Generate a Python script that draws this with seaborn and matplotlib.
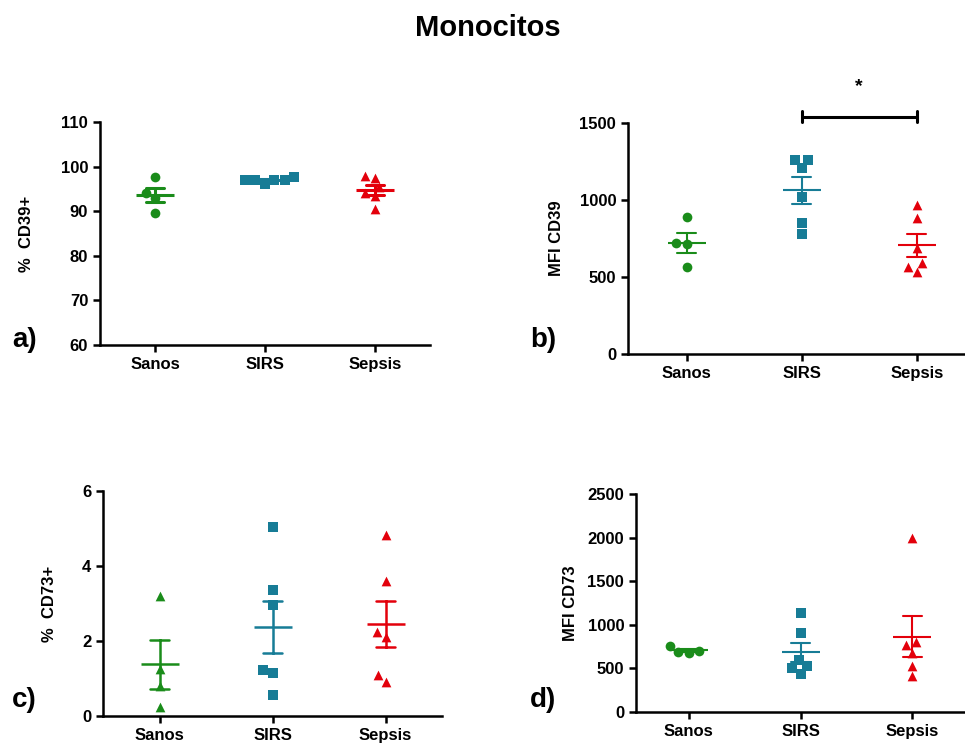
import numpy as np
import pandas as pd
import matplotlib.pyplot as plt
import seaborn as sns

grupos = ['Sanos', 'SIRS', 'Sepsis']
colores = {'Sanos': '#1a8c1a', 'SIRS': '#177c96', 'Sepsis': '#e3000b'}

# a) % CD39+
cd39_pct_sanos = [97.7, 94.0, 93.0, 89.7]
cd39_pct_sirs = [96.2, 97.0, 97.0, 97.7, 96.9, 97.0]
cd39_pct_sepsis = [98.0, 97.5, 95.5, 94.0, 93.5, 90.5]

# b) MFI CD39
cd39_mfi_sanos = [890, 715, 720, 565]
cd39_mfi_sirs = [1260, 1260, 1210, 1020, 850, 780]
cd39_mfi_sepsis = [965, 885, 690, 590, 535, 565]

# c) % CD73+
cd73_pct_sanos = [3.2, 1.25, 0.8, 0.25]
cd73_pct_sirs = [5.05, 3.35, 2.95, 1.15, 1.22, 0.55]
cd73_pct_sepsis = [4.82, 3.6, 2.25, 2.1, 0.92, 1.1]

# d) MFI CD73
cd73_mfi_sanos = [760, 680, 700, 690]
cd73_mfi_sirs = [1130, 910, 600, 530, 440, 500]
cd73_mfi_sepsis = [2000, 800, 770, 680, 530, 410]


def armar_df(sanos, sirs, sepsis):
    valores = list(sanos) + list(sirs) + list(sepsis)
    etiquetas = ['Sanos'] * len(sanos) + ['SIRS'] * len(sirs) + ['Sepsis'] * len(sepsis)
    return pd.DataFrame({'grupo': etiquetas, 'valor': valores})


def panel(ax, df, marcadores, ylim, yticks, ylabel, xlim, lw, label_x):
    for g, m in zip(grupos, marcadores):
        sns.swarmplot(data=df[df.grupo == g], x='grupo', y='valor', order=grupos,
                      color=colores[g], marker=m, size=7, linewidth=0, ax=ax)
    sns.pointplot(data=df, x='grupo', y='valor', hue='grupo', order=grupos,
                  hue_order=grupos, palette=colores, errorbar='se', capsize=0.17,
                  marker='_', markersize=27, markeredgewidth=lw, linestyle='none',
                  err_kws={'linewidth': lw}, legend=False, ax=ax)
    ax.set_ylim(*ylim)
    ax.set_yticks(yticks)
    ax.set_xlim(*xlim)
    ax.set_xlabel('')
    ax.set_ylabel(ylabel, fontsize=12, fontweight='bold', color='black')
    ax.yaxis.set_label_coords(label_x, 0.5)
    sns.despine(ax=ax)
    for s in ['left', 'bottom']:
        ax.spines[s].set_linewidth(1.8)
        ax.spines[s].set_color('black')
    ax.tick_params(width=1.8, length=5, labelsize=12, direction='out',
                   color='black', labelcolor='black')
    for t in ax.get_xticklabels() + ax.get_yticklabels():
        t.set_fontweight('bold')


sns.set_theme(style='ticks')
plt.rcParams['font.family'] = ['Liberation Sans', 'DejaVu Sans']
plt.rcParams['text.color'] = 'black'

fig = plt.figure(figsize=(9.65, 7.43), dpi=100)

ax_a = fig.add_axes([100 / 965, (743 - 345) / 743, 330 / 965, 223 / 743])
ax_b = fig.add_axes([628 / 965, (743 - 354) / 743, 337 / 965, 231 / 743])
ax_c = fig.add_axes([103 / 965, (743 - 716) / 743, 339 / 965, 225 / 743])
ax_d = fig.add_axes([636 / 965, (743 - 712) / 743, 329 / 965, 218 / 743])

panel(ax_a, armar_df(cd39_pct_sanos, cd39_pct_sirs, cd39_pct_sepsis), ['o', 's', '^'],
      (60, 110), [60, 70, 80, 90, 100, 110], '%  CD39+', (-0.5, 2.5), 2.2, -0.2)
panel(ax_b, armar_df(cd39_mfi_sanos, cd39_mfi_sirs, cd39_mfi_sepsis), ['o', 's', '^'],
      (0, 1500), [0, 500, 1000, 1500], 'MFI CD39', (-0.51, 2.42), 1.5, -0.19)
panel(ax_c, armar_df(cd73_pct_sanos, cd73_pct_sirs, cd73_pct_sepsis), ['^', 's', '^'],
      (0, 6), [0, 2, 4, 6], '%  CD73+', (-0.5, 2.5), 1.8, -0.135)
panel(ax_d, armar_df(cd73_mfi_sanos, cd73_mfi_sirs, cd73_mfi_sepsis), ['o', 's', '^'],
      (0, 2500), [0, 500, 1000, 1500, 2000, 2500], 'MFI CD73', (-0.47, 2.47), 1.5, -0.176)

# significance bracket SIRS vs Sepsis
ax_b.plot([1, 2], [1540, 1540], color='black', lw=2.2, clip_on=False)
ax_b.plot([1, 1], [1505, 1575], color='black', lw=2.2, clip_on=False)
ax_b.plot([2, 2], [1505, 1575], color='black', lw=2.2, clip_on=False)
ax_b.text(1.5, 1680, '*', ha='center', va='bottom', fontsize=14, fontweight='bold', color='black')

fig.text(0.506, 1 - 28 / 743, 'Monocitos', ha='center', va='center', fontsize=21,
         fontweight='bold', color='black')
for txt, x, y in [('a)', 12, 347), ('b)', 530, 347), ('c)', 12, 707), ('d)', 530, 707)]:
    fig.text(x / 965, (743 - y) / 743, txt, ha='left', va='baseline', fontsize=20,
             fontweight='bold', color='black')

fig.savefig('out.png', dpi=100)
